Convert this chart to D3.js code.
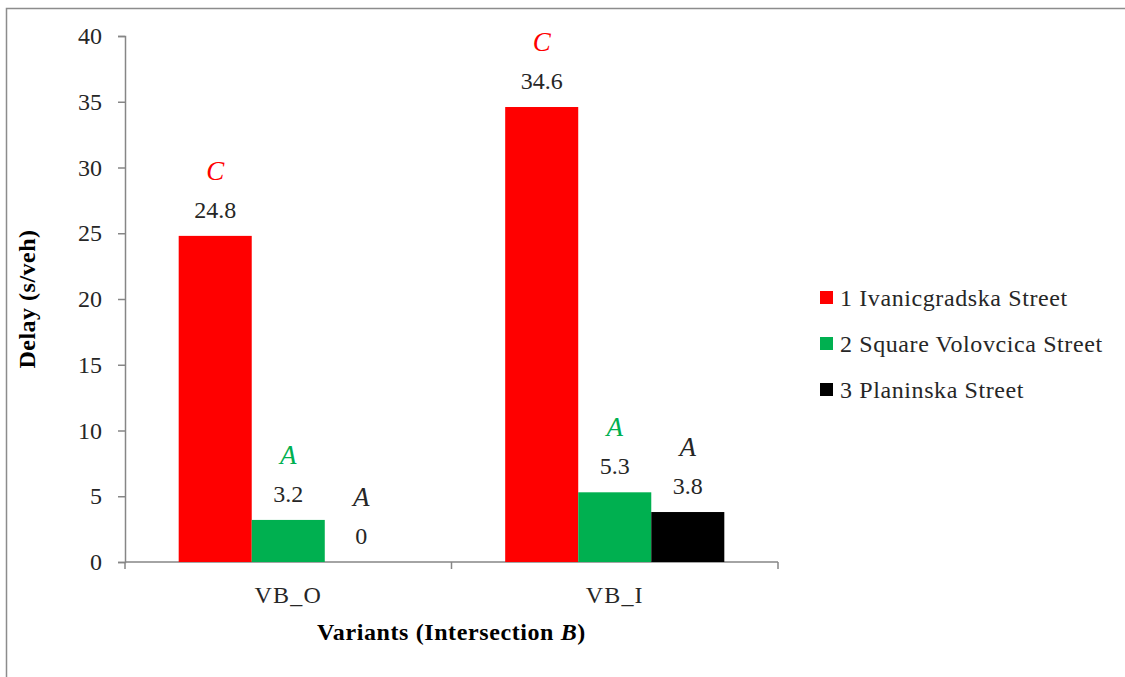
<!DOCTYPE html>
<html>
<head>
<meta charset="utf-8">
<script src="https://cdn.jsdelivr.net/npm/d3@7"></script>
<style>
  body { margin: 0; background: #fff; }
</style>
</head>
<body>
<div id="chart"></div>
<script>
// set the dimensions of the picture
var width = 1125
    height = 677

// data
var variants = ["VB_O", "VB_I"]
var streets = ["1 Ivanicgradska Street", "2 Square Volovcica Street", "3 Planinska Street"]
var colors = ["#ff0000", "#00b050", "#000000"]
var letterColors = ["#ff0000", "#00b050", "#262626"]
var delayVBO = [24.8, 3.2, 0]
var delayVBI = [34.6, 5.3, 3.8]
var losVBO = ["C", "A", "A"]
var losVBI = ["C", "A", "A"]
var yTicks = [0, 5, 10, 15, 20, 25, 30, 35, 40]

var values = [delayVBO, delayVBI]
var los = [losVBO, losVBI]

var serif = "'Times New Roman', serif"

var svg = d3.select("#chart")
    .append("svg")
        .attr("width", width)
        .attr("height", height)
        .style("font-family", serif)

// outer frame (right and bottom edges fall outside the picture)
svg.append("rect")
    .attr("x", 6.5).attr("y", 8.5)
    .attr("width", 1130).attr("height", 680)
    .attr("fill", "none")
    .attr("stroke", "#8c8c8c")
    .attr("stroke-width", 1.5)

var plotL = 125, plotR = 778, plotT = 36, plotB = 562
var fs = 24

var x = d3.scaleBand()
    .domain(variants)
    .range([plotL, plotR])
    .paddingInner(0)
    .paddingOuter(0)

// three bars of ~73px centred in each category
var inner = d3.scaleBand()
    .domain(d3.range(streets.length))
    .range([0, x.bandwidth()])
    .paddingOuter(0.735)
    .paddingInner(0)

var y = d3.scaleLinear()
    .domain([0, 40])
    .range([plotB, plotT])

// y axis
var yAxis = svg.append("g")
    .attr("transform", "translate(" + plotL + ",0)")
    .call(d3.axisLeft(y).tickValues(yTicks).tickSize(7).tickPadding(16))
yAxis.attr("font-family", null).attr("font-size", null)
yAxis.selectAll("path, line").attr("stroke", "#868686").attr("stroke-width", 1.5)
yAxis.selectAll("text")
    .style("font-family", serif)
    .style("font-size", fs + "px")
    .attr("fill", "#262626")

// x axis with ticks at category boundaries
var xAxis = svg.append("g")
    .attr("transform", "translate(0," + plotB + ")")
xAxis.append("line")
    .attr("x1", plotL).attr("x2", plotR)
    .attr("stroke", "#868686").attr("stroke-width", 1.5)
xAxis.selectAll(".tick")
    .data([plotL].concat(variants.map(function(v) { return x(v) + x.bandwidth() })))
    .enter().append("line")
        .attr("x1", function(d) { return d }).attr("x2", function(d) { return d })
        .attr("y1", 0).attr("y2", 7)
        .attr("stroke", "#868686").attr("stroke-width", 1.5)
xAxis.selectAll(".lbl")
    .data(variants)
    .enter().append("text")
        .attr("x", function(d) { return x(d) + x.bandwidth() / 2 })
        .attr("y", 41)
        .attr("text-anchor", "middle")
        .style("font-size", fs + "px")
        .style("letter-spacing", "1.2px")
        .attr("fill", "#262626")
        .text(function(d) { return d })

// bars
var groups = svg.selectAll(".grp")
    .data(variants)
    .enter().append("g")
        .attr("transform", function(d) { return "translate(" + x(d) + ",0)" })

groups.each(function(v, gi) {
    var g = d3.select(this)
    var rows = values[gi].map(function(val, i) { return {i: i, v: val, l: los[gi][i]} })

    g.selectAll("rect")
        .data(rows)
        .enter().append("rect")
            .attr("x", function(d) { return inner(d.i) })
            .attr("y", function(d) { return y(d.v) })
            .attr("width", inner.bandwidth())
            .attr("height", function(d) { return y(0) - y(d.v) })
            .attr("fill", function(d) { return colors[d.i] })

    g.selectAll(".val")
        .data(rows)
        .enter().append("text")
            .attr("x", function(d) { return inner(d.i) + inner.bandwidth() / 2 })
            .attr("y", function(d) { return y(d.v) - 18 })
            .attr("text-anchor", "middle")
            .style("font-size", fs + "px")
            .attr("fill", "#262626")
            .text(function(d) { return d.v })

    g.selectAll(".los")
        .data(rows)
        .enter().append("text")
            .attr("x", function(d) { return inner(d.i) + inner.bandwidth() / 2 })
            .attr("y", function(d) { return y(d.v) - 56 })
            .attr("text-anchor", "middle")
            .style("font-size", "27px")
            .style("font-style", "italic")
            .attr("fill", function(d) { return letterColors[d.i] })
            .text(function(d) { return d.l })
})

// axis titles
svg.append("text")
    .attr("transform", "translate(35," + ((plotT + plotB) / 2) + ") rotate(-90)")
    .attr("text-anchor", "middle")
    .style("font-size", fs + "px")
    .style("font-weight", "bold")
    .style("letter-spacing", "0.5px")
    .attr("fill", "#000")
    .text("Delay (s/veh)")

var xt = svg.append("text")
    .attr("x", (plotL + plotR) / 2)
    .attr("y", 640)
    .attr("text-anchor", "middle")
    .style("font-size", fs + "px")
    .style("font-weight", "bold")
    .style("letter-spacing", "0.6px")
    .attr("fill", "#000")
xt.append("tspan").text("Variants (Intersection ")
xt.append("tspan").style("font-style", "italic").text("B")
xt.append("tspan").text(")")

// legend
var legend = svg.selectAll(".leg")
    .data(streets)
    .enter().append("g")
        .attr("transform", function(d, i) { return "translate(820," + (298 + i * 46) + ")" })
legend.append("rect")
    .attr("x", 0).attr("y", -7)
    .attr("width", 13).attr("height", 13)
    .attr("fill", function(d, i) { return colors[i] })
legend.append("text")
    .attr("x", 20).attr("y", 8)
    .style("font-size", fs + "px")
    .style("letter-spacing", "0.6px")
    .attr("fill", "#262626")
    .text(function(d) { return d })
</script>
</body>
</html>
